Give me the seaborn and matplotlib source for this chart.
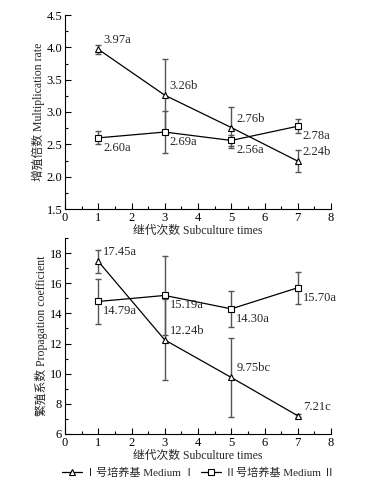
import numpy as np
import pandas as pd
import matplotlib
matplotlib.use("Agg")
import matplotlib.pyplot as plt
from matplotlib.ticker import MultipleLocator, FormatStrFormatter
from matplotlib.lines import Line2D
import seaborn as sns

sns.set_theme(style="ticks")
FAM = ['Liberation Serif', 'Noto Sans CJK SC']
plt.rcParams['font.family'] = FAM
plt.rcParams['font.size'] = 8.5

times = [1, 3, 5, 7]
rate_I = [3.97, 3.26, 2.76, 2.24]
rate_I_err = [0.07, 0.56, 0.31, 0.17]
rate_II = [2.60, 2.69, 2.56, 2.78]
rate_II_err = [0.10, 0.33, 0.08, 0.11]
rate_I_lab = ["3.97a", "3.26b", "2.76b", "2.24b"]
rate_II_lab = ["2.60a", "2.69a", "2.56a", "2.78a"]

coef_I = [17.45, 12.24, 9.75, 7.21]
coef_I_err = [0.78, 2.69, 2.65, 0.10]
coef_II = [14.79, 15.19, 14.30, 15.70]
coef_II_err = [1.50, 2.60, 1.20, 1.05]
coef_I_lab = ["17.45a", "12.24b", "9.75bc", "7.21c"]
coef_II_lab = ["14.79a", "15.19a", "14.30a", "15.70a"]

media = ["Ⅰ号培养基 Medium Ⅰ", "Ⅱ号培养基 Medium Ⅱ"]

fig = plt.figure(figsize=(3.74, 4.88), dpi=100)
ax1 = fig.add_axes([65/374, 1-209/488, (331-65)/374, (209-15)/488])
ax2 = fig.add_axes([65/374, 1-434/488, (331-65)/374, (434-238)/488])

ecol = '#555555'

def draw(ax, yI, eI, yII, eII, labI, labII, ylim, ymaj, ymin, ylabel):
    df = pd.DataFrame({
        'x': times * 2,
        'y': yI + yII,
        'm': [media[0]] * 4 + [media[1]] * 4,
    })
    ax.errorbar(times, yI, yerr=eI, fmt='none', ecolor=ecol, elinewidth=1.0, capsize=2.5, capthick=1.0, zorder=1)
    ax.errorbar(times, yII, yerr=eII, fmt='none', ecolor=ecol, elinewidth=1.0, capsize=2.5, capthick=1.0, zorder=1)
    sns.lineplot(data=df, x='x', y='y', hue='m', style='m', markers=['^', 's'], dashes=False,
                 palette=['black', 'black'], ax=ax, legend=False, linewidth=0.9,
                 markersize=5, markerfacecolor='white', markeredgecolor='black', markeredgewidth=0.8, zorder=3)
    for x, y, t in zip(times, yI, labI):
        ax.annotate(t, (x, y), xytext=(5, 9), textcoords='offset pixels',
                    ha='left', va='center', fontsize=9)
    for x, y, t in zip(times, yII, labII):
        ax.annotate(t, (x, y), xytext=(5, -10), textcoords='offset pixels',
                    ha='left', va='center', fontsize=9)
    ax.set_xlim(0, 8)
    ax.set_ylim(*ylim)
    ax.xaxis.set_major_locator(MultipleLocator(1))
    ax.xaxis.set_minor_locator(MultipleLocator(0.5))
    ax.yaxis.set_major_locator(MultipleLocator(ymaj))
    ax.yaxis.set_minor_locator(MultipleLocator(ymin))
    ax.tick_params(which='both', direction='in', width=0.8, labelsize=9, pad=2, colors='black')
    ax.tick_params(which='major', length=4)
    ax.tick_params(which='minor', length=2)
    sns.despine(ax=ax)
    for s in ['left', 'bottom']:
        ax.spines[s].set_linewidth(0.8)
        ax.spines[s].set_color('black')
    ax.set_xlabel("继代次数 Subculture times", fontsize=8.5, labelpad=1)
    ax.set_ylabel(ylabel, fontsize=8.5, labelpad=1)
    ax.set_facecolor('white')

draw(ax1, rate_I, rate_I_err, rate_II, rate_II_err, rate_I_lab, rate_II_lab,
     (1.5, 4.5), 0.5, 0.25, "增殖倍数 Multiplication rate")
ax1.yaxis.set_major_formatter(FormatStrFormatter('%.1f'))
draw(ax2, coef_I, coef_I_err, coef_II, coef_II_err, coef_I_lab, coef_II_lab,
     (6, 19), 2, 1, "繁殖系数 Propagation coefficient")
fig.align_ylabels([ax1, ax2])

handles = [
    Line2D([], [], color='black', lw=0.9, marker='^', ms=5, mfc='white', mec='black', mew=0.8),
    Line2D([], [], color='black', lw=0.9, marker='s', ms=5, mfc='white', mec='black', mew=0.8),
]
fig.legend(handles, media, loc='center', bbox_to_anchor=(198/374, 1-473/488), ncol=2,
           frameon=False, fontsize=8, handlelength=1.8, handletextpad=0.3, columnspacing=0.6,
           borderpad=0)

fig.savefig('out.png', dpi=100, facecolor='white')
